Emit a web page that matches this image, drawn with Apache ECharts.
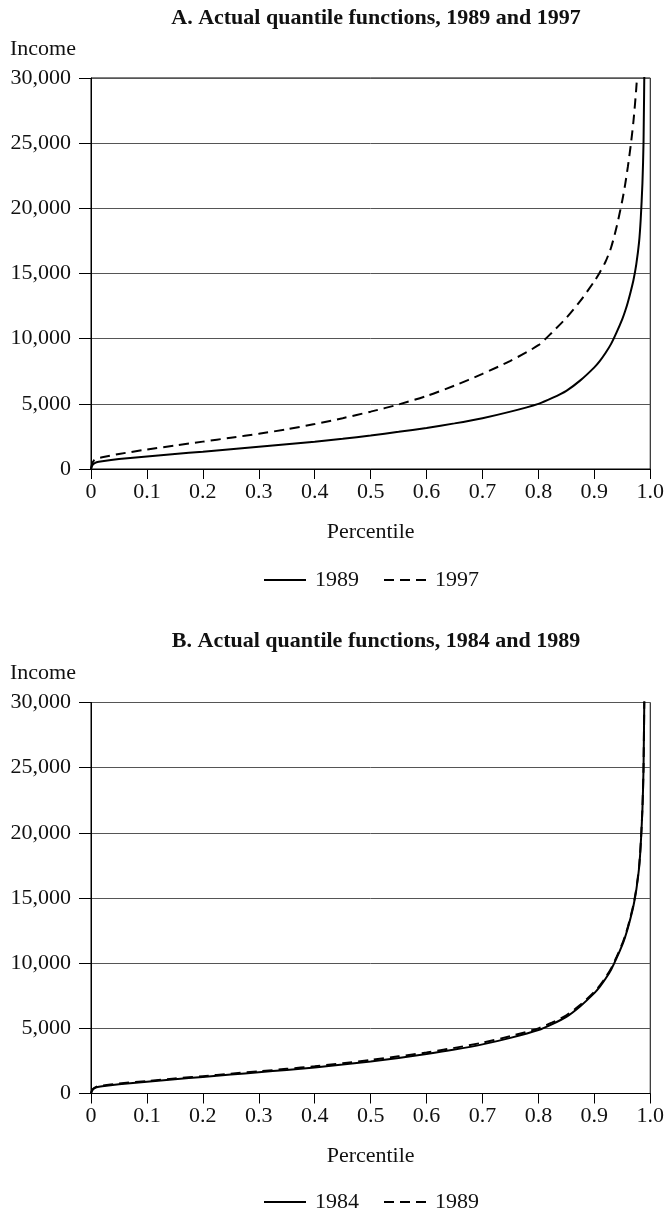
<!DOCTYPE html>
<html><head><meta charset="utf-8">
<script src="https://cdn.jsdelivr.net/npm/echarts@6/dist/echarts.min.js"></script>
<style>html,body{margin:0;padding:0;background:#fff}#c{width:667px;height:1214px}</style>
</head><body><div id="c"></div>
<script>
// Percentile grid (x)
const percentiles = [0, 0.002, 0.005, 0.01, 0.02, 0.05, 0.1, 0.15, 0.2, 0.25, 0.3, 0.35, 0.4, 0.45, 0.5, 0.55, 0.6, 0.65, 0.7, 0.75, 0.8, 0.825, 0.85, 0.875, 0.9, 0.91, 0.92, 0.93, 0.94, 0.95, 0.955, 0.96, 0.965, 0.97, 0.975, 0.98, 0.983, 0.986, 0.988, 0.99];
// Panel A (and panel B, dashed)
const income1989 = [0, 250, 400, 520, 600, 760, 960, 1150, 1330, 1520, 1700, 1890, 2090, 2320, 2570, 2850, 3150, 3500, 3900, 4400, 5000, 5450, 6000, 6800, 7800, 8300, 8900, 9600, 10500, 11500, 12100, 12800, 13600, 14500, 15700, 17400, 19200, 21900, 25100, 33000];
const income1997 = [0, 400, 650, 800, 900, 1150, 1500, 1800, 2100, 2400, 2700, 3050, 3450, 3900, 4400, 4950, 5600, 6400, 7300, 8300, 9500, 10500, 11600, 12900, 14400, 15100, 15900, 17000, 18600, 20600, 21800, 23200, 24800, 26700, 29200, 32500, 34500, 36500, 38000, 40000];
// Panel B (solid)
const income1984 = [0, 230, 370, 480, 560, 710, 900, 1090, 1270, 1450, 1630, 1810, 2000, 2220, 2460, 2730, 3030, 3370, 3770, 4270, 4870, 5330, 5880, 6700, 7700, 8200, 8800, 9500, 10400, 11400, 12000, 12700, 13500, 14400, 15600, 17300, 19100, 21800, 25000, 33000];
const yTicks = [0, 5000, 10000, 15000, 20000, 25000, 30000];

const FONT = 'Liberation Serif';
const txt = {fontFamily: FONT, fontSize: 22, color: '#111', fontWeight: 'normal'};
const titleTxt = {fontFamily: FONT, fontSize: 22, fontWeight: 'bold', color: '#111'};
const pairs = (ys) => percentiles.map((p, i) => [p, ys[i]]);

function grid(top) { return {left: 91, width: 560, top: top, height: 391, show: true, borderColor: '#000', borderWidth: 1, backgroundColor: 'transparent'}; }
function xAx(idx) {
  return {gridIndex: idx, type: 'value', min: 0, max: 1, interval: 0.1,
    name: 'Percentile', nameLocation: 'middle', nameGap: 52, nameTextStyle: txt,
    axisLine: {lineStyle: {color: '#000', width: 1}},
    axisTick: {length: 10, lineStyle: {color: '#000'}},
    axisLabel: Object.assign({margin: 12, formatter: v => v === 0 ? '0' : v.toFixed(1)}, txt),
    splitLine: {show: false}};
}
function yAx(idx) {
  return {gridIndex: idx, type: 'value', min: yTicks[0], max: yTicks[yTicks.length-1], interval: 5000,
    axisLine: {show: true, lineStyle: {color: '#000', width: 1}},
    axisTick: {show: true, length: 12, lineStyle: {color: '#000'}},
    axisLabel: Object.assign({margin: 20, formatter: v => v.toLocaleString('en-US')}, txt),
    splitLine: {show: true, lineStyle: {color: '#555', width: 1}}};
}
function line(name, idx, ys, dashed) {
  return {name: name, type: 'line', xAxisIndex: idx, yAxisIndex: idx, data: pairs(ys),
    symbol: 'none', smooth: 0.25, clip: true, silent: true,
    lineStyle: {color: '#000', width: 2, type: dashed ? [10, 6] : 'solid'}, itemStyle: {color: '#000'}};
}
const legendBase = {itemWidth: 42, itemHeight: 14, itemGap: 24,
  itemStyle: {opacity: 0},
  textStyle: Object.assign({padding: [0, 0, 0, 4]}, txt), formatter: n => n.replace(/^[AB] /, ''), selectedMode: false};

const option = {
  animation: false,
  backgroundColor: '#fff',
  title: [
    {text: 'A. Actual quantile functions, 1989 and 1997', left: 371, top: 2, textAlign: 'center', textStyle: titleTxt},
    {text: 'Income', left: 5, top: 33, textStyle: txt},
    {text: 'B. Actual quantile functions, 1984 and 1989', left: 371, top: 625, textAlign: 'center', textStyle: titleTxt},
    {text: 'Income', left: 5, top: 657, textStyle: txt}
  ],
  legend: [
    Object.assign({data: ['A 1989', 'A 1997'], top: 564}, legendBase, {left: 258}),
    Object.assign({data: ['B 1984', 'B 1989'], top: 1186}, legendBase, {left: 258})
  ],
  grid: [grid(78), grid(702.5)],
  xAxis: [xAx(0), xAx(1)],
  yAxis: [yAx(0), yAx(1)],
  series: [
    line('A 1989', 0, income1989, false),
    line('A 1997', 0, income1997, true),
    line('B 1984', 1, income1984, false),
    line('B 1989', 1, income1989, true)
  ]
};
const chart = echarts.init(document.getElementById('c'), null, {renderer: 'canvas'});
chart.setOption(option);
</script></body></html>
